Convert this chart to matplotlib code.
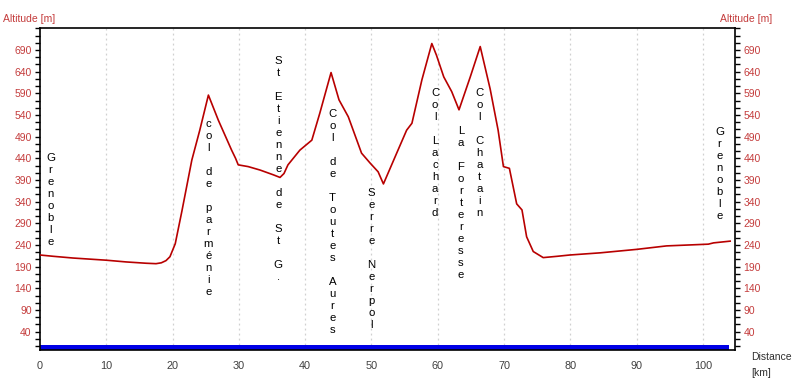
import numpy as np
import matplotlib
matplotlib.use("Agg")
import matplotlib.pyplot as plt
from matplotlib.ticker import MultipleLocator, FixedLocator

plt.rcParams['font.family'] = ['Liberation Sans', 'DejaVu Sans']

# Profile data (distance km, altitude m)
dist_km = [0.0, 2.0, 5.0, 8.0, 10.0, 13.0, 16.0, 17.5, 18.3, 19.0, 19.6, 20.4, 21.4,
           22.9, 24.1, 25.4, 26.9, 28.9, 29.5, 29.9, 31.4, 33.2, 35.2, 36.2, 36.8,
           37.4, 39.2, 41.0, 42.2, 43.9, 45.1, 46.5, 48.5, 49.8, 51.0, 51.8, 53.8,
           55.3, 56.1, 57.6, 59.1, 59.8, 60.9, 62.1, 63.2, 64.9, 66.4, 67.9, 69.1,
           69.9, 70.8, 71.9, 72.7, 73.4, 74.4, 75.9, 78.0, 79.9, 84.5, 90.0, 94.5,
           100.8, 101.6, 104.1]
altitude_m = [217, 214, 210, 207, 205, 201, 198, 197, 199, 204, 213, 243, 318,
              436, 505, 586, 528, 459, 440, 425, 421, 413, 402, 396, 405,
              425, 459, 482, 544, 638, 575, 536, 452, 429, 409, 381, 452,
              505, 521, 621, 705, 678, 628, 594, 552, 628, 698, 600, 505,
              421, 417, 335, 321, 259, 225, 211, 214, 217, 222, 230, 238,
              242, 245, 249]

# Place names along the route
place_names = ["Grenoble", "col de parménie", "St Etienne de St G.", "Col de Toutes Aures",
               "Serre Nerpol", "Col Lachard", "La Forteresse", "Col Chatain", "Grenoble"]
place_km = [1.6, 25.4, 35.95, 44.1, 50.0, 59.6, 63.5, 66.3, 102.5]
place_alt = [452, 531, 678, 554, 373, 604, 515, 604, 513]

x_ticks = [0, 10, 20, 30, 40, 50, 60, 70, 80, 90, 100]
y_ticks = [40, 90, 140, 190, 240, 290, 340, 390, 440, 490, 540, 590, 640, 690]

bar_start_km, bar_end_km = 0.0, 104.0

fig = plt.figure(figsize=(8.0, 3.78), dpi=100)
ax = fig.add_axes([40/800, 1-350/378, (735-40)/800, (350-27.7)/378])

ymin, ymax = -2.2, 741.5
ax.set_xlim(0, 104.83)
ax.set_ylim(ymin, ymax)

# grid
for xv in x_ticks[1:]:
    ax.axvline(xv, color='#d0d0d0', lw=0.9, ls=(0, (1.5, 2.5)), zorder=0)

# blue bar
ax.fill_between([bar_start_km, bar_end_km], ymin, 10, color='#0000e6', lw=0, zorder=2)

ax.plot(dist_km, altitude_m, color='#b80000', lw=1.2, zorder=3)

# vertical labels
px2pt = 0.72
for name, xk, ya in zip(place_names, place_km, place_alt):
    for i, ch in enumerate(name):
        if ch == ' ':
            continue
        ax.annotate(ch, xy=(xk, ya), xycoords='data',
                    xytext=(0, -(8.3 + i*12.0)*px2pt), textcoords='offset points',
                    ha='center', va='baseline', fontsize=8.2, color='black', zorder=4)

# axes styling
tick_col = '#c43c3c'
ax.set_xticks(x_ticks)
ax.set_xticklabels([str(v) for v in x_ticks])
ax.tick_params(axis='x', length=0, pad=8, labelsize=7.8, labelcolor='#404040')
ax.yaxis.set_major_locator(FixedLocator(y_ticks))
minor = [40 + k*50/3 for k in range(-2, 43)]
minor = [m for m in minor if ymin < m < ymax]
ax.yaxis.set_minor_locator(FixedLocator(minor))
ax.tick_params(axis='y', which='both', direction='out', length=3.5, width=1.0,
               color='black', left=True, right=True, labelleft=True, labelright=True,
               labelsize=7.5, labelcolor=tick_col, pad=2.5)
ax.tick_params(axis='y', which='minor', length=3.5)
for s in ax.spines.values():
    s.set_color('black')
    s.set_linewidth(1.2)

fig.text(3/800, 1-19/378, "Altitude [m]", color=tick_col, fontsize=7.5, ha='left', va='center')
fig.text(720.5/800, 1-19/378, "Altitude [m]", color=tick_col, fontsize=7.5, ha='left', va='center')
fig.text(751.5/800, 1-357/378, "Distance", color='#303030', fontsize=7.5, ha='left', va='center')
fig.text(751.5/800, 1-372.5/378, "[km]", color='#303030', fontsize=7.5, ha='left', va='center')

fig.savefig("out.png", dpi=100, facecolor='white')
